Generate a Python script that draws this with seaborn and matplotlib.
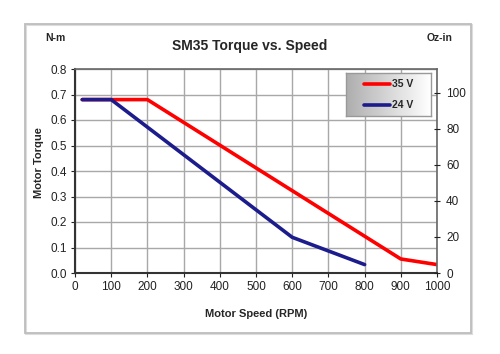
import matplotlib
matplotlib.use("Agg")
import matplotlib.pyplot as plt
import seaborn as sns
import numpy as np
import pandas as pd
from matplotlib.patches import Rectangle

sns.set_theme(style="white")
plt.rcParams['font.family'] = ['Liberation Sans', 'DejaVu Sans']

speed_35 = [20, 200, 900, 1000]
torque_35 = [0.68, 0.68, 0.055, 0.033]
speed_24 = [20, 100, 600, 800]
torque_24 = [0.68, 0.68, 0.14, 0.033]
x_ticks = [0, 100, 200, 300, 400, 500, 600, 700, 800, 900, 1000]
y_ticks = [0.0, 0.1, 0.2, 0.3, 0.4, 0.5, 0.6, 0.7, 0.8]
oz_ticks = [0, 20, 40, 60, 80, 100]
NM_TO_OZIN = 141.6

df = pd.concat([
    pd.DataFrame({"speed": speed_35, "torque": torque_35, "series": "35 V"}),
    pd.DataFrame({"speed": speed_24, "torque": torque_24, "series": "24 V"}),
])

fig = plt.figure(figsize=(5, 3.54), dpi=100)
fig.patch.set_facecolor("white")
# outer frame with light shadow
fig.patches.append(Rectangle((26/500, 1-334/354), 446/500, 309/354, transform=fig.transFigure,
                             fill=False, edgecolor="#dddddd", linewidth=1.5, zorder=0))
fig.patches.append(Rectangle((25/500, 1-333/354), 446/500, 309/354, transform=fig.transFigure,
                             fill=False, edgecolor="#bdbdbd", linewidth=1.3, zorder=0))

ax = fig.add_axes([75/500, 1-273/354, 362/500, 204/354])
palette = {"35 V": "#ff0000", "24 V": "#1c1c8c"}
sns.lineplot(data=df, x="speed", y="torque", hue="series", palette=palette, ax=ax,
             linewidth=2.6, legend=False, sort=False, estimator=None)
ax.set_xlim(0, 1000)
ax.set_ylim(0, 0.8)
ax.set_xticks(x_ticks)
ax.set_yticks(y_ticks)
ax.set_yticklabels([f"{v:.1f}" for v in y_ticks])
ax.grid(True, color="#a8a8a8", linewidth=1.0)
ax.set_axisbelow(True)
for s in ["left", "bottom"]:
    ax.spines[s].set_color("#333333")
    ax.spines[s].set_linewidth(1.5)
for s in ["top", "right"]:
    ax.spines[s].set_color("#666666")
    ax.spines[s].set_linewidth(1.2)
ax.tick_params(axis="both", labelsize=8.5, colors="#222222", length=3, width=0.8,
               direction="out", left=True, bottom=True, pad=3)
ax.set_xlabel("Motor Speed (RPM)", fontsize=8, fontweight="bold", labelpad=11)
ax.set_ylabel("Motor Torque", fontsize=8, fontweight="bold")
ax.yaxis.set_label_coords(-0.086, 0.54)

ax2 = ax.twinx()
ax2.set_ylim(0, 0.8 * NM_TO_OZIN)
ax2.set_yticks(oz_ticks)
ax2.tick_params(axis="y", labelsize=8.5, colors="#222222", length=5, width=0.8,
                direction="inout", right=True, pad=4)
for s in ax2.spines.values():
    s.set_visible(False)

fig.text(250/500, 1-46/354, "SM35 Torque vs. Speed", ha="center", va="center",
         fontsize=10, fontweight="bold")
fig.text(55/500, 1-38/354, "N-m", ha="center", va="center", fontsize=7.5, fontweight="bold")
fig.text(440/500, 1-38/354, "Oz-in", ha="center", va="center", fontsize=7.5, fontweight="bold")

# legend with gradient background
lax = fig.add_axes([346/500, 1-116/354, 85/500, 43/354])
grad = np.linspace(0.68, 1.0, 256).reshape(1, -1)
lax.imshow(grad, aspect="auto", cmap="gray", vmin=0, vmax=1, extent=[0, 1, 0, 1])
lax.set_xlim(0, 1); lax.set_ylim(0, 1)
lax.set_xticks([]); lax.set_yticks([])
for s in lax.spines.values():
    s.set_color("#999999"); s.set_linewidth(1.0)
for yv, lbl in [(0.75, "35 V"), (0.25, "24 V")]:
    lax.plot([0.21, 0.52], [yv, yv], color=palette[lbl], linewidth=2.6)
    lax.text(0.545, yv, lbl, va="center", ha="left", fontsize=7.5, fontweight="bold")

fig.savefig("out.png", dpi=100)
